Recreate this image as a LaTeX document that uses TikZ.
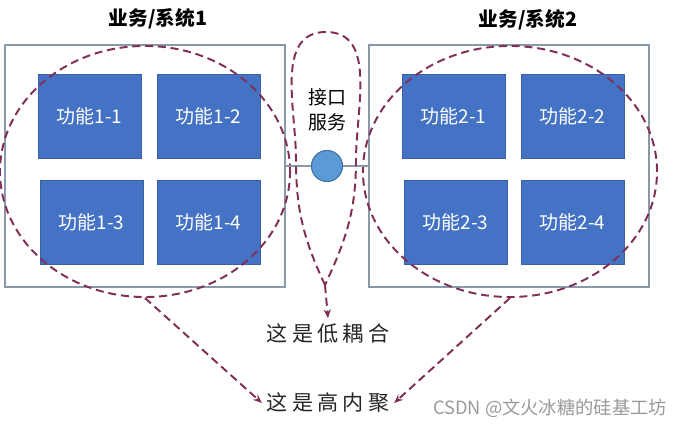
\documentclass[tikz,border=0pt]{standalone}
\usepackage{fontspec}
\setmainfont{Noto Sans CJK SC}
\newfontfamily\handfont{Noto Sans CJK SC}[LetterSpace=20]
\usetikzlibrary{arrows.meta,shapes.geometric}
\definecolor{fnblue}{RGB}{68,114,196}
\definecolor{frame}{RGB}{138,153,170}
\definecolor{plum}{RGB}{128,48,88}
\definecolor{apiblue}{RGB}{91,155,213}
\definecolor{apiedge}{RGB}{65,113,156}
\tikzset{
  >={Stealth[length=2.2mm,width=1.8mm]},
  func/.style={fill=fnblue,draw=fnblue!85!black,text=white,inner sep=0pt,
    minimum width=2.58cm,minimum height=2.1cm,font=\fontsize{13.5}{16}\selectfont},
  sys/.style={draw=frame,line width=1pt,minimum width=7cm,minimum height=6.05cm},
  title/.style={font=\fontsize{14}{17}\selectfont\bfseries},
  api/.style={circle,fill=apiblue,draw=apiedge,thick,minimum size=0.775cm,inner sep=0pt},
  ring/.style={draw=plum,line width=1.4pt,dash pattern=on 5.7pt off 3.4pt},
  flow/.style={ring,->},
  hand/.style={font=\handfont\fontsize{15}{18}\selectfont,text=black!85},
  wmark/.style={font=\fontsize{13}{16}\selectfont,text=black!40},
}
\begin{document}
\begin{tikzpicture}[x=0.025cm,y=-0.025cm]
  \useasboundingbox (0,0) rectangle (691,427);
  % the two systems
  \node[sys] (sys1) at (145,166) {};
  \node[sys] (sys2) at (509,166) {};
  \node[title] (t1) at (158,19) {业务/系统1};
  \node[title] (t2) at (528,20) {业务/系统2};
  % functions inside each system
  \foreach \s/\dx in {1/0,2/364} {
    \node[func] (f\s-1) at ({89.5+\dx},116) {功能\s-1};
    \node[func] (f\s-2) at ({208.5+\dx},116) {功能\s-2};
    \node[func] (f\s-3) at ({91.5+\dx},222) {功能\s-3};
    \node[func] (f\s-4) at ({208.5+\dx},222) {功能\s-4};
  }
  % cohesion rings
  \node[ring,ellipse,inner sep=0pt,minimum width=7.25cm,minimum height=6.275cm] (coh1) at (145,171.5) {};
  \node[ring,ellipse,inner sep=0pt,minimum width=7.35cm,minimum height=6.275cm] (coh2) at (510,171.5) {};
  % interface between them
  \node[api] (api) at (327,166) {};
  \draw[frame,line width=1pt] (sys1.east) -- (api) -- (sys2.west);
  \node[font=\fontsize{13.5}{17.5}\selectfont,align=center] (apitxt) at (327,110) {接口\\服务};
  \coordinate (tip) at (325,285);
  \draw[ring] (tip) to[out=115,in=-90] (296,160) to[out=90,in=180] (326,32)
    to[out=0,in=90] (356,160) to[out=-90,in=65] (tip);
  % conclusions
  \node[hand] (low) at (328,333) {这是低耦合};
  \node[hand] (high) at (328,403) {这是高内聚};
  \draw[flow] (tip) -- (low.north);
  \draw[flow] (coh1.south) -- (high.west);
  \draw[flow] (coh2.south) -- (high.east);
  \node[wmark] (wm) at (550,408) {CSDN @文火冰糖的硅基工坊};
\end{tikzpicture}
\end{document}
